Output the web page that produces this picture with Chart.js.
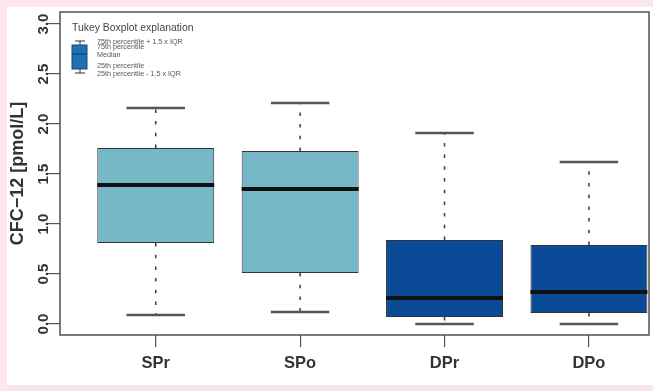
<!DOCTYPE html>
<html>
<head>
<meta charset="utf-8">
<script src="https://cdn.jsdelivr.net/npm/chart.js@4"></script>
<style>
  html, body { margin: 0; padding: 0; background: #fbe6ee; }
  #wrap { position: absolute; left: 7px; top: 7px; width: 646px; height: 378px; background: #ffffff; }
  canvas { display: block; }
</style>
</head>
<body>
<div id="wrap"><canvas id="c" width="646" height="378"></canvas></div>
<script>
// CFC-12 concentrations per group: Tukey five-number summaries
const groups = ['SPr', 'SPo', 'DPr', 'DPo'];
const whiskerLow  = [0.09, 0.12, 0.00, 0.00];
const q1          = [0.81, 0.51, 0.07, 0.11];
const median      = [1.39, 1.35, 0.26, 0.32];
const q3          = [1.76, 1.73, 0.84, 0.79];
const whiskerHigh = [2.16, 2.21, 1.91, 1.62];
const yTicks = [0, 0.5, 1, 1.5, 2, 2.5, 3];
const yTickLabels = ['0.0', '0.5', '1.0', '1.5', '2.0', '2.5', '3.0'];
const yTitle = 'CFC\u221212 [pmol/L]';
const legendTitle = 'Tukey Boxplot explanation';
const legendLines = ['75th percentile + 1.5 x IQR', '75th percentile', 'Median', '25th percentile', '25th percentile - 1.5 x IQR'];

const boxColors = ['#76b7c8', '#76b7c8', '#0b4a96', '#0b4a96'];
const FONT = '"Liberation Sans", Arial, Helvetica, sans-serif';
const INK = '#333333';

// whiskers, caps and medians drawn on top of the floating bars
const boxplotParts = {
  id: 'boxplotParts',
  afterDatasetsDraw(chart) {
    const ctx = chart.ctx;
    const y = chart.scales.y;
    const meta = chart.getDatasetMeta(0);
    meta.data.forEach((bar, i) => {
      const cx = bar.x;
      const half = bar.width / 2;
      const pHi = y.getPixelForValue(whiskerHigh[i]);
      const pLo = y.getPixelForValue(whiskerLow[i]);
      const pQ3 = y.getPixelForValue(q3[i]);
      const pQ1 = y.getPixelForValue(q1[i]);
      const pMed = y.getPixelForValue(median[i]);
      ctx.save();
      // dashed whiskers
      ctx.strokeStyle = '#444';
      ctx.lineWidth = 1.6;
      ctx.setLineDash([3.5, 8.2]);
      ctx.beginPath();
      ctx.moveTo(cx, pQ3); ctx.lineTo(cx, pHi);
      ctx.moveTo(cx, pQ1); ctx.lineTo(cx, pLo);
      ctx.stroke();
      ctx.setLineDash([]);
      // caps
      ctx.strokeStyle = '#555';
      ctx.lineWidth = 2.4;
      ctx.beginPath();
      ctx.moveTo(cx - half / 2, pHi); ctx.lineTo(cx + half / 2, pHi);
      ctx.moveTo(cx - half / 2, pLo); ctx.lineTo(cx + half / 2, pLo);
      ctx.stroke();
      // median
      ctx.strokeStyle = '#111';
      ctx.lineWidth = 4;
      ctx.beginPath();
      ctx.moveTo(cx - half, pMed); ctx.lineTo(cx + half, pMed);
      ctx.stroke();
      ctx.restore();
    });
  }
};

// frame, rotated y labels, axis title and the explanation key
const frameAndText = {
  id: 'frameAndText',
  afterDraw(chart) {
    const ctx = chart.ctx;
    const a = chart.chartArea;
    const y = chart.scales.y;
    ctx.save();
    ctx.strokeStyle = '#444';
    ctx.lineWidth = 1.4;
    ctx.strokeRect(a.left, a.top, a.right - a.left, a.bottom - a.top);

    // y tick labels, reading bottom to top
    ctx.fillStyle = INK;
    ctx.font = 'bold 15px ' + FONT;
    ctx.textAlign = 'center';
    ctx.textBaseline = 'alphabetic';
    yTicks.forEach((v, i) => {
      ctx.save();
      ctx.translate(40.5, y.getPixelForValue(v));
      ctx.rotate(-Math.PI / 2);
      ctx.fillText(yTickLabels[i], 0, 0);
      ctx.restore();
    });

    // y axis title
    ctx.save();
    ctx.font = 'bold 18px ' + FONT;
    ctx.translate(15.5, (a.top + a.bottom) / 2);
    ctx.rotate(-Math.PI / 2);
    ctx.fillText(yTitle, 0, 0);
    ctx.restore();

    // explanation key
    ctx.textAlign = 'left';
    ctx.fillStyle = '#444';
    ctx.font = '10.4px ' + FONT;
    ctx.fillText(legendTitle, 65, 24);

    ctx.strokeStyle = '#333';
    ctx.lineWidth = 1;
    ctx.beginPath();
    ctx.moveTo(73, 34); ctx.lineTo(73, 66);
    ctx.moveTo(68, 34); ctx.lineTo(78, 34);
    ctx.moveTo(68, 66); ctx.lineTo(78, 66);
    ctx.stroke();
    ctx.fillStyle = '#1b70b8';
    ctx.fillRect(65, 38, 15, 24);
    ctx.strokeStyle = '#24476e';
    ctx.strokeRect(65, 38, 15, 24);
    ctx.lineWidth = 1.5;
    ctx.beginPath();
    ctx.moveTo(65, 47); ctx.lineTo(80, 47);
    ctx.stroke();

    ctx.fillStyle = '#555';
    ctx.font = '7.2px ' + FONT;
    const baselines = [36.5, 41.5, 49.5, 60.5, 68.5];
    legendLines.forEach((t, i) => ctx.fillText(t, 90, baselines[i]));
    ctx.restore();
  }
};

new Chart(document.getElementById('c'), {
  type: 'bar',
  data: {
    datasets: [{
      data: groups.map((g, i) => ({ x: i + 1, y: [q1[i], q3[i]] })),
      backgroundColor: boxColors,
      borderColor: '#333',
      borderWidth: 1,
      borderSkipped: false,
      barPercentage: 0.81,
      categoryPercentage: 1
    }]
  },
  options: {
    responsive: false,
    animation: false,
    events: [],
    layout: { padding: { left: 0, top: 5, right: 4, bottom: 0 } },
    plugins: { legend: { display: false }, tooltip: { enabled: false } },
    scales: {
      x: {
        type: 'linear',
        offset: false,
        min: 0.337,
        max: 4.416,
        afterBuildTicks: s => { s.ticks = groups.map((g, i) => ({ value: i + 1 })); },
        afterFit: s => { s.height = 50; },
        grid: { offset: false, drawOnChartArea: false, drawTicks: true, tickLength: 12, color: '#555', lineWidth: 1.2 },
        border: { display: false },
        ticks: {
          autoSkip: false,
          maxRotation: 0,
          padding: 7,
          color: INK,
          font: { family: FONT, size: 16.5, weight: 'bold' },
          callback: v => groups[v - 1]
        }
      },
      y: {
        type: 'linear',
        min: -0.11,
        max: 3.12,
        afterBuildTicks: s => { s.ticks = yTicks.map(v => ({ value: v })); },
        afterFit: s => { s.width = 53; },
        grid: { drawOnChartArea: false, drawTicks: true, tickLength: 12, color: '#555', lineWidth: 1.2 },
        border: { display: false },
        ticks: { display: false }
      }
    }
  },
  plugins: [boxplotParts, frameAndText]
});
</script>
</body>
</html>
